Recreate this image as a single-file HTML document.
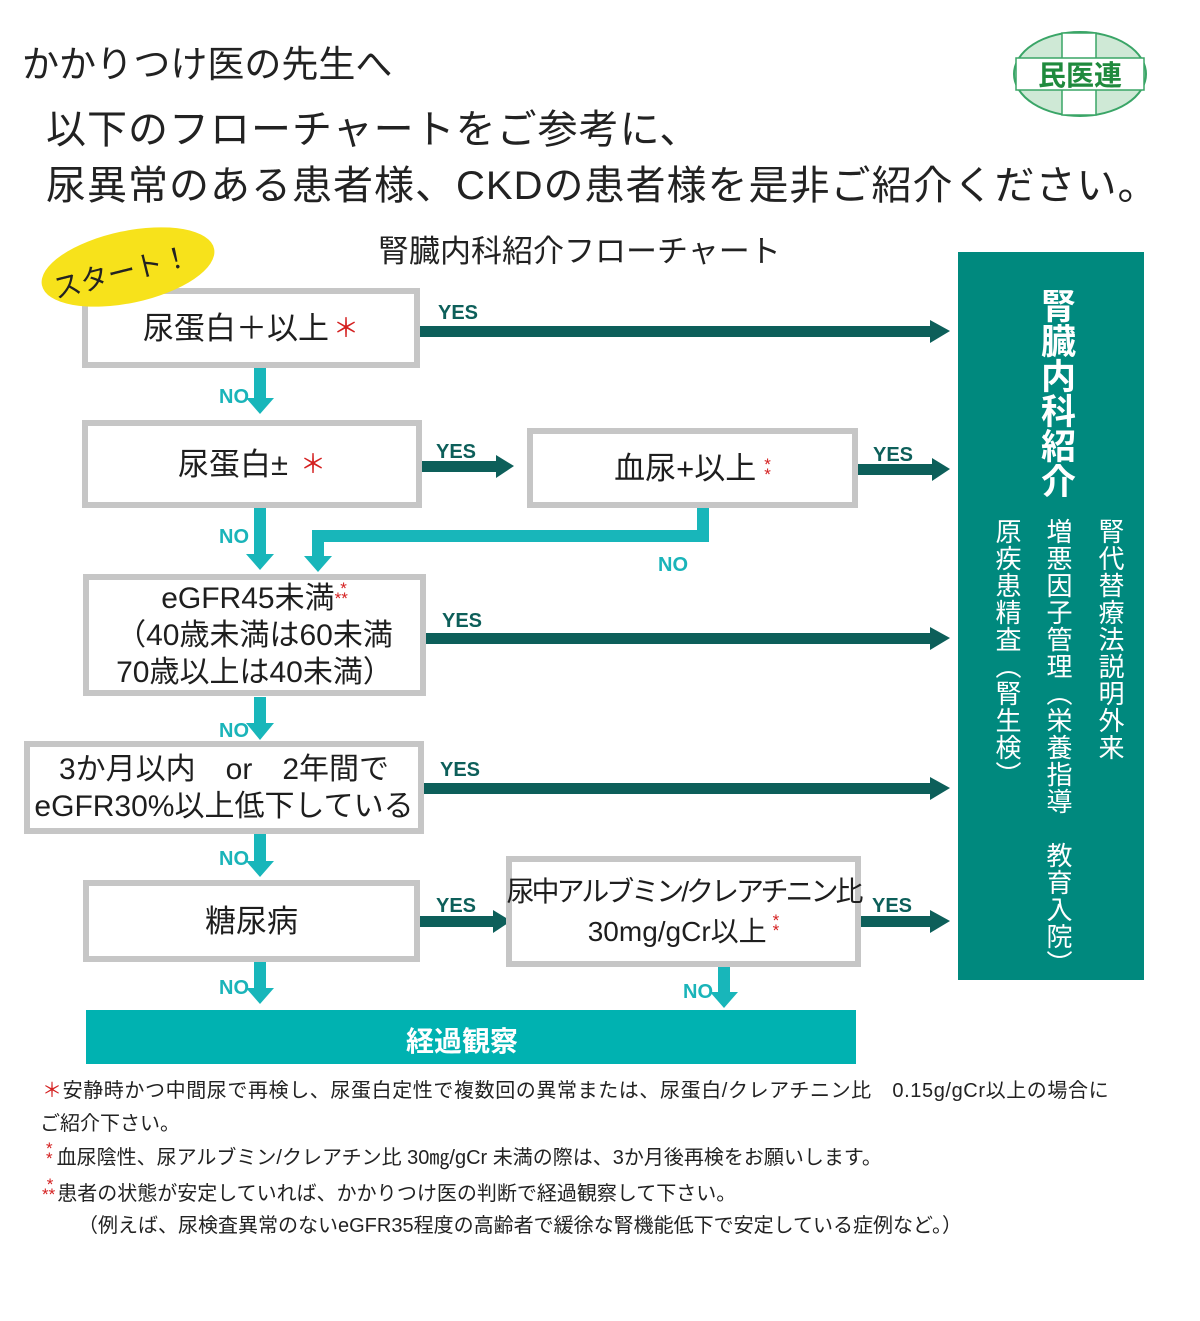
<!DOCTYPE html>
<html><head><meta charset="utf-8"><style>
*{margin:0;padding:0;box-sizing:border-box}
body{width:1200px;height:1321px;background:#fff;position:relative;overflow:hidden;font-family:"Liberation Sans","Noto Sans CJK JP",sans-serif;color:#222}
.a{position:absolute;white-space:nowrap}
.box{position:absolute;border:6px solid #c6c6c6;background:#fff;display:flex;align-items:center;justify-content:center;text-align:center;font-size:31px;line-height:37px;color:#1e1e1e;white-space:nowrap}
.r{color:#d42020}
.ss{font-size:17px;line-height:10px;display:inline-block;vertical-align:top;color:#d42020;margin-top:4px}
.y{position:absolute;font-size:20px;font-weight:bold;color:#0d5f5a}
.n{position:absolute;font-size:20px;font-weight:bold;color:#1ab4b9}
.v{position:absolute;writing-mode:vertical-rl;color:#fff;font-size:26px;line-height:28px;letter-spacing:1px}
.fn{position:absolute;left:46px;font-size:20px;color:#222;white-space:nowrap}
</style></head><body>
<div class="a" style="left:22px;top:34px;font-size:37px;color:#222">かかりつけ医の先生へ</div>
<div class="a" style="left:46px;top:102px;font-size:40px;line-height:56px;color:#222;letter-spacing:1px">以下のフローチャートをご参考に、<br>尿異常のある患者様、CKDの患者様を是非ご紹介ください。</div>
<svg class="a" style="left:1010px;top:28px" width="140" height="92" viewBox="0 0 140 92">
<ellipse cx="70" cy="46" rx="66" ry="42" fill="#cfe9d6" stroke="#3aa567" stroke-width="2"/>
<rect x="52" y="5" width="34" height="82" fill="#fff" stroke="#3aa567" stroke-width="1.5"/>
<rect x="6" y="30" width="128" height="32" fill="#fff" stroke="#3aa567" stroke-width="1.5"/>
<text x="70" y="57" text-anchor="middle" font-size="28" fill="#1f8a3d" font-family="Noto Sans CJK JP" font-weight="bold">民医連</text>
</svg>
<div class="a" style="left:378px;top:226px;font-size:31px;color:#222">腎臓内科紹介フローチャート</div>

<div style="position:absolute;left:958px;top:252px;width:186px;height:728px;background:#00897e"></div>
<div class="v" style="left:1034px;top:288px;font-size:35px;line-height:42px;font-weight:bold;letter-spacing:0">腎臓内科紹介</div>
<div class="v" style="left:1096px;top:518px">腎代替療法説明外来</div>
<div class="v" style="left:1044px;top:518px">増悪因子管理（栄養指導　教育入院）</div>
<div class="v" style="left:993px;top:518px">原疾患精査（腎生検）</div>

<svg class="a" style="left:0;top:0" width="1200" height="1321">
<g fill="#0d5f5a">
<rect x="420" y="326" width="512" height="11"/><polygon points="930,320 950,331 930,343"/>
<rect x="422" y="461" width="76" height="11"/><polygon points="496,455 514,466 496,478"/>
<rect x="858" y="464" width="76" height="11"/><polygon points="932,458 950,469 932,481"/>
<rect x="426" y="633" width="506" height="11"/><polygon points="930,627 950,638 930,650"/>
<rect x="423" y="783" width="509" height="11"/><polygon points="930,777 950,788 930,800"/>
<rect x="420" y="916" width="75" height="11"/><polygon points="493,910 511,921 493,933"/>
<rect x="860" y="916" width="72" height="11"/><polygon points="930,910 950,921 930,933"/>
</g>
<g fill="#18b6ba">
<rect x="254" y="368" width="12" height="32"/><polygon points="246,398 274,398 260,414"/>
<rect x="254" y="508" width="12" height="48"/><polygon points="246,554 274,554 260,570"/>
<rect x="697" y="508" width="12" height="34"/><rect x="312" y="530" width="397" height="12"/>
<rect x="312" y="530" width="12" height="28"/><polygon points="304,556 332,556 318,572"/>
<rect x="254" y="697" width="12" height="28"/><polygon points="246,723 274,723 260,740"/>
<rect x="254" y="833" width="12" height="30"/><polygon points="246,861 274,861 260,877"/>
<rect x="254" y="962" width="12" height="28"/><polygon points="246,988 274,988 260,1004"/>
<rect x="718" y="966" width="12" height="28"/><polygon points="710,992 738,992 724,1008"/>
</g>
</svg>

<div class="box" style="left:82px;top:288px;width:338px;height:80px">尿蛋白＋以上<span class="r" style="font-size:26px;margin-left:4px">＊</span></div>
<div class="box" style="left:82px;top:420px;width:340px;height:88px">尿蛋白±<span class="r" style="font-size:26px;margin-left:12px">＊</span></div>
<div class="box" style="left:527px;top:428px;width:331px;height:80px">血尿+以上<span class="ss" style="margin-left:8px">*<br>*</span></div>
<div class="box" style="left:83px;top:574px;width:343px;height:122px;font-size:30px;line-height:37px"><div>eGFR45未満<span class="ss">&nbsp;*<br>**</span><br>（40歳未満は60未満<br>70歳以上は40未満）</div></div>
<div class="box" style="left:24px;top:741px;width:400px;height:93px;font-size:30px">3か月以内　or　2年間で<br>eGFR30%以上低下している</div>
<div class="box" style="left:83px;top:880px;width:337px;height:82px">糖尿病</div>
<div class="box" style="left:506px;top:856px;width:355px;height:111px;font-size:28px;line-height:40px"><div><span style="letter-spacing:-3px">尿中アルブミン/クレアチニン比</span><br>30mg/gCr以上<span class="ss" style="margin-left:6px">*<br>*</span></div></div>
<div style="position:absolute;left:86px;top:1010px;width:770px;height:54px;background:#00b2b1"></div>
<div class="a" style="left:406px;top:1020px;font-size:28px;font-weight:bold;color:#fff">経過観察</div>

<svg class="a" style="left:38px;top:222px" width="180" height="90"><ellipse cx="90" cy="45" rx="88" ry="36" fill="#f7e21b" transform="rotate(-12 90 45)"/>
<text x="84" y="60" text-anchor="middle" font-size="28" fill="#222" transform="rotate(-14 84 52)" font-family="Noto Sans CJK JP">スタート！</text></svg>

<div class="y" style="left:438px;top:302px">YES</div>
<div class="y" style="left:436px;top:441px">YES</div>
<div class="y" style="left:873px;top:444px">YES</div>
<div class="y" style="left:442px;top:610px">YES</div>
<div class="y" style="left:440px;top:759px">YES</div>
<div class="y" style="left:436px;top:895px">YES</div>
<div class="y" style="left:872px;top:895px">YES</div>
<div class="n" style="left:219px;top:386px">NO</div>
<div class="n" style="left:219px;top:526px">NO</div>
<div class="n" style="left:658px;top:554px">NO</div>
<div class="n" style="left:219px;top:720px">NO</div>
<div class="n" style="left:219px;top:848px">NO</div>
<div class="n" style="left:219px;top:977px">NO</div>
<div class="n" style="left:683px;top:981px">NO</div>

<div class="fn" style="left:42px;top:1074px;letter-spacing:0.6px"><span class="r">＊</span>安静時かつ中間尿で再検し、尿蛋白定性で複数回の異常または、尿蛋白/クレアチニン比　0.15g/gCr以上の場合に</div>
<div class="fn" style="left:40px;top:1107px">ご紹介下さい。</div>
<div class="fn" style="left:44px;top:1141px"><span class="ss" style="margin:3px 4px 0 2px">*<br>*</span>血尿陰性、尿アルブミン/クレアチン比 30㎎/gCr 未満の際は、3か月後再検をお願いします。</div>
<div class="fn" style="left:42px;top:1177px"><span class="ss" style="margin:3px 2px 0 0">&nbsp;*<br>**</span>患者の状態が安定していれば、かかりつけ医の判断で経過観察して下さい。</div>
<div class="fn" style="left:78px;top:1209px">（例えば、尿検査異常のないeGFR35程度の高齢者で緩徐な腎機能低下で安定している症例など。）</div>
</body></html>
